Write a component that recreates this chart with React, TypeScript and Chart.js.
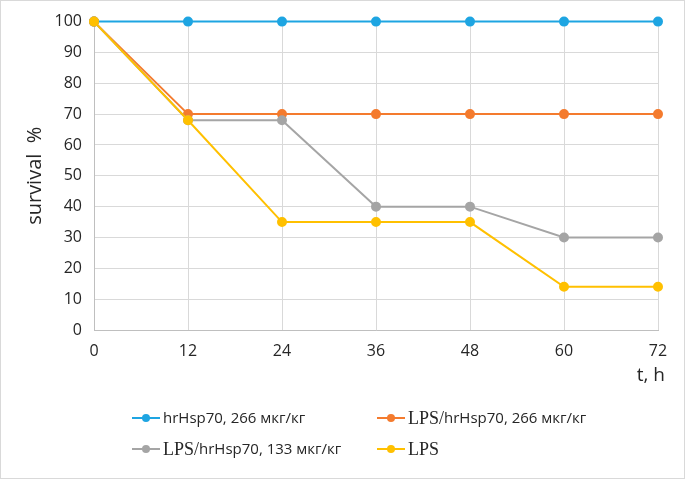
import React, { useEffect, useRef } from "react";
import { Chart, registerables } from "chart.js";

Chart.register(...registerables);

const hours = ["0", "12", "24", "36", "48", "60", "72"];
const hsp266 = [100, 100, 100, 100, 100, 100, 100];
const lpsHsp266 = [100, 70, 70, 70, 70, 70, 70];
const lpsHsp133 = [100, 68, 68, 40, 40, 30, 30];
const lps = [100, 68, 35, 35, 35, 14, 14];

const SANS = "'Open Sans', Lato, sans-serif";
const SERIF = "'Liberation Serif', 'DejaVu Serif', serif";
const TEXT = "#262626";

type Seg = { t: string; serif: boolean };
const legendItems: { color: string; segs: Seg[]; col: number; row: number }[] = [
  { color: "#1ea5e2", segs: [{ t: "hrHsp70, 266 мкг/кг", serif: false }], col: 0, row: 0 },
  { color: "#f47b2e", segs: [{ t: "LPS/", serif: true }, { t: "hrHsp70, 266 мкг/кг", serif: false }], col: 1, row: 0 },
  { color: "#a5a5a5", segs: [{ t: "LPS/", serif: true }, { t: "hrHsp70, 133 мкг/кг", serif: false }], col: 0, row: 1 },
  { color: "#ffc000", segs: [{ t: "LPS", serif: true }], col: 1, row: 1 },
];

const frameAndLegend = {
  id: "frameAndLegend",
  beforeDraw(chart: any) {
    const ctx = chart.ctx;
    ctx.save();
    ctx.fillStyle = "#ffffff";
    ctx.fillRect(0, 0, chart.width, chart.height);
    ctx.strokeStyle = "#d9d9d9";
    ctx.lineWidth = 1;
    ctx.strokeRect(0.5, 0.5, chart.width - 1, chart.height - 1);
    ctx.restore();
  },
  afterDraw(chart: any) {
    const ctx = chart.ctx;
    ctx.save();
    // x axis title
    ctx.fillStyle = TEXT;
    ctx.font = `19px ${SANS}`;
    ctx.textAlign = "right";
    ctx.textBaseline = "middle";
    ctx.fillText("t, h", 665, 376);

    const colX = [132, 377];
    const rowY = [418, 449];
    legendItems.forEach((it) => {
      const x = colX[it.col];
      const y = rowY[it.row];
      ctx.strokeStyle = it.color;
      ctx.lineWidth = 2;
      ctx.beginPath();
      ctx.moveTo(x, y);
      ctx.lineTo(x + 28, y);
      ctx.stroke();
      ctx.fillStyle = it.color;
      ctx.beginPath();
      ctx.arc(x + 14, y, 4, 0, Math.PI * 2);
      ctx.fill();
      let tx = x + 31;
      ctx.fillStyle = TEXT;
      ctx.textBaseline = "middle";
      ctx.textAlign = "left";
      it.segs.forEach((s) => {
        ctx.font = s.serif ? `18px ${SERIF}` : `15px ${SANS}`;
        ctx.fillText(s.t, tx, y + 1);
        tx += ctx.measureText(s.t).width;
      });
    });
    ctx.restore();
  },
};

export default function App() {
  const ref = useRef<HTMLCanvasElement | null>(null);
  useEffect(() => {
    document.body.style.margin = "0";
    const mk = (label: string, data: number[], color: string, order: number) => ({
      label,
      data,
      borderColor: color,
      backgroundColor: color,
      pointBackgroundColor: color,
      pointBorderColor: color,
      pointRadius: 4,
      pointHoverRadius: 4,
      borderWidth: 2,
      tension: 0,
      clip: false,
      order,
    });
    const chart = new Chart(ref.current as HTMLCanvasElement, {
      type: "line",
      data: {
        labels: hours,
        datasets: [
          mk("hrHsp70, 266 мкг/кг", hsp266, "#1ea5e2", 3),
          mk("LPS/hrHsp70, 266 мкг/кг", lpsHsp266, "#f47b2e", 2),
          mk("LPS/hrHsp70, 133 мкг/кг", lpsHsp133, "#a5a5a5", 1),
          mk("LPS", lps, "#ffc000", 0),
        ],
      },
      options: {
        animation: false,
        responsive: false,
        devicePixelRatio: 1,
        layout: { padding: { left: 0, right: 27, top: 18, bottom: 89 } },
        plugins: { legend: { display: false }, tooltip: { enabled: false } },
        scales: {
          x: {
            offset: false,
            grid: { color: "#d9d9d9", drawTicks: false },
            border: { color: "#bfbfbf" },
            ticks: { color: TEXT, font: { size: 16, family: SANS }, padding: 12, maxRotation: 0 },
            title: { display: false },
            afterFit(scale: any) {
              scale.height = 60;
            },
          },
          y: {
            min: 0,
            max: 100,
            ticks: { stepSize: 10, color: TEXT, font: { size: 16, family: SANS }, padding: 12 },
            grid: { color: "#d9d9d9", drawTicks: false },
            border: { color: "#bfbfbf" },
            title: {
              display: true,
              text: "survival  %",
              color: TEXT,
              font: { size: 20, family: SANS },
              padding: { top: 23, bottom: 0 },
            },
            afterFit(scale: any) {
              scale.width = 94;
            },
          },
        },
      },
      plugins: [frameAndLegend],
    });
    return () => chart.destroy();
  }, []);
  return (
    <div style={{ position: "relative", width: 685, height: 479 }}>
      <canvas ref={ref} width={685} height={479} style={{ display: "block" }} />
    </div>
  );
}
